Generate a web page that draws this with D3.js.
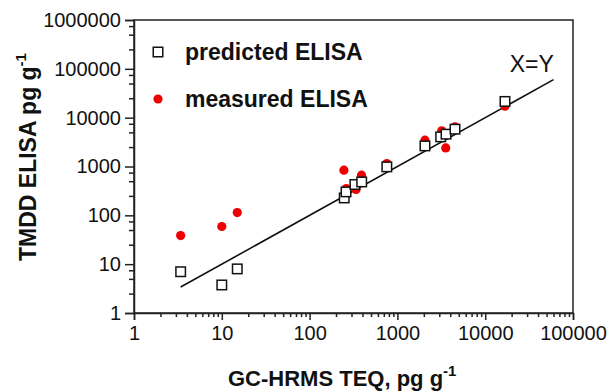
<!doctype html>
<html lang="en">
<head>
<meta charset="utf-8">
<script src="https://cdn.jsdelivr.net/npm/d3@7/dist/d3.min.js"></script>
<style>
    body { margin: 0; background: #fff; }
    svg text { font-family: "Liberation Sans", Arial, sans-serif; fill: #111; }
</style>
</head>
<body>
<div id="chart"></div>
<script>
    // GC-HRMS TEQ (x) against TMDD ELISA (y), pg/g
    var teqX      = [3.4, 10, 15, 248, 260, 328, 392, 758, 2060, 3110, 3580, 4530, 16800];
    var predicted = [7.0, 3.75, 8.0, 227, 302, 428, 483, 982, 2640, 4040, 4590, 5810, 21500];
    var measuredX = [3.4, 10, 15, 246, 262, 338, 390, 758, 2060, 3200, 3550, 4530, 16800];
    var measured  = [38.5, 59, 114, 840, 354, 338, 664, 1150, 3460, 5370, 2405, 6500, 17200];
    var identityLine = [3.4, 60000];
    var xTicks = [1, 10, 100, 1000, 10000, 100000];
    var yTicks = [1, 10, 100, 1000, 10000, 100000, 1000000];

    var margin = {top: 20, right: 35, bottom: 79, left: 134},
        width = 608 - margin.left - margin.right,
        height = 392 - margin.top - margin.bottom;

    var svg = d3.select("#chart").append("svg")
        .attr("width", 608)
        .attr("height", 392);

    var g = svg.append("g")
        .attr("transform", "translate(" + margin.left + "," + margin.top + ")");

    var x = d3.scaleLog().domain([1, 100000]).range([0, width]);
    var y = d3.scaleLog().domain([1, 1000000]).range([height, 0]);

    // minor ticks: 2..9 on x, 2.5/5/7.5 on y
    var xMinor = [], yMinor = [];
    xTicks.slice(0, -1).forEach(function(d) {
        for (var k = 2; k <= 9; k++) xMinor.push(d * k);
    });
    yTicks.slice(0, -1).forEach(function(d) {
        [2.5, 5, 7.5].forEach(function(k) { yMinor.push(d * k); });
    });

    // frame
    g.append("rect")
        .attr("width", width)
        .attr("height", height)
        .attr("fill", "none")
        .attr("stroke", "#222")
        .attr("stroke-width", 1.5);

    // X axis
    g.append("g")
        .attr("transform", "translate(0," + height + ")")
        .call(d3.axisBottom(x).tickValues(xTicks).tickSize(7).tickPadding(6)
            .tickFormat(d3.format("d")));
    g.append("g")
        .attr("transform", "translate(0," + height + ")")
        .call(d3.axisBottom(x).tickValues(xMinor).tickSize(4).tickFormat(""))
        .select(".domain").remove();

    // Y axis
    g.append("g")
        .call(d3.axisLeft(y).tickValues(yTicks).tickSize(9).tickPadding(4)
            .tickFormat(d3.format("d")));
    g.append("g")
        .call(d3.axisLeft(y).tickValues(yMinor).tickSize(5).tickFormat(""))
        .select(".domain").remove();

    g.selectAll(".domain").attr("stroke", "#222").attr("stroke-width", 1.5);
    g.selectAll(".tick line").attr("stroke", "#222").attr("stroke-width", 1.5);
    g.selectAll(".tick text")
        .style("font-size", "20px")
        .style("font-family", "'Liberation Sans', Arial, sans-serif")
        .attr("fill", "#111");

    // X=Y line
    var line = d3.line()
        .x(function(d) { return x(d); })
        .y(function(d) { return y(d); });
    g.append("path")
        .attr("d", line(identityLine))
        .attr("fill", "none")
        .attr("stroke", "#111")
        .attr("stroke-width", 1.6);

    g.append("text")
        .attr("x", x(20000) - 2)
        .attr("y", y(60000) - 8)
        .style("font-size", "23px")
        .text("X=Y");

    // measured ELISA
    g.selectAll(".measured")
        .data(measured)
        .enter().append("circle")
        .attr("class", "measured")
        .attr("cx", function(d, i) { return x(measuredX[i]); })
        .attr("cy", function(d) { return y(d); })
        .attr("r", 4.6)
        .attr("fill", "#ee0000");

    // predicted ELISA
    var s = 9.5;
    g.selectAll(".predicted")
        .data(predicted)
        .enter().append("rect")
        .attr("class", "predicted")
        .attr("x", function(d, i) { return x(teqX[i]) - s / 2; })
        .attr("y", function(d) { return y(d) - s / 2; })
        .attr("width", s)
        .attr("height", s)
        .attr("fill", "#fff")
        .attr("stroke", "#111")
        .attr("stroke-width", 1.5);

    // legend
    var legend = svg.append("g");
    legend.append("rect")
        .attr("x", 158 - s / 2).attr("y", 52 - s / 2)
        .attr("width", s).attr("height", s)
        .attr("fill", "#fff").attr("stroke", "#111").attr("stroke-width", 1.5);
    legend.append("circle")
        .attr("cx", 158).attr("cy", 99).attr("r", 4.6).attr("fill", "#ee0000");
    legend.append("text")
        .attr("x", 185).attr("y", 60)
        .style("font-size", "23px").style("font-weight", "bold")
        .text("predicted ELISA");
    legend.append("text")
        .attr("x", 185).attr("y", 107)
        .style("font-size", "23px").style("font-weight", "bold")
        .text("measured ELISA");

    // axis titles
    var xt = svg.append("text")
        .attr("x", 228).attr("y", 386)
        .style("font-size", "22px").style("font-weight", "bold");
    xt.append("tspan").text("GC-HRMS TEQ, pg g");
    xt.append("tspan").attr("dy", -10).style("font-size", "15px").text("-1");

    var yt = svg.append("text")
        .attr("transform", "translate(36,261) rotate(-90)")
        .style("font-size", "23px").style("font-weight", "bold");
    yt.append("tspan").text("TMDD ELISA pg g");
    yt.append("tspan").attr("dy", -10).style("font-size", "15px").text("-1");
</script>
</body>
</html>
